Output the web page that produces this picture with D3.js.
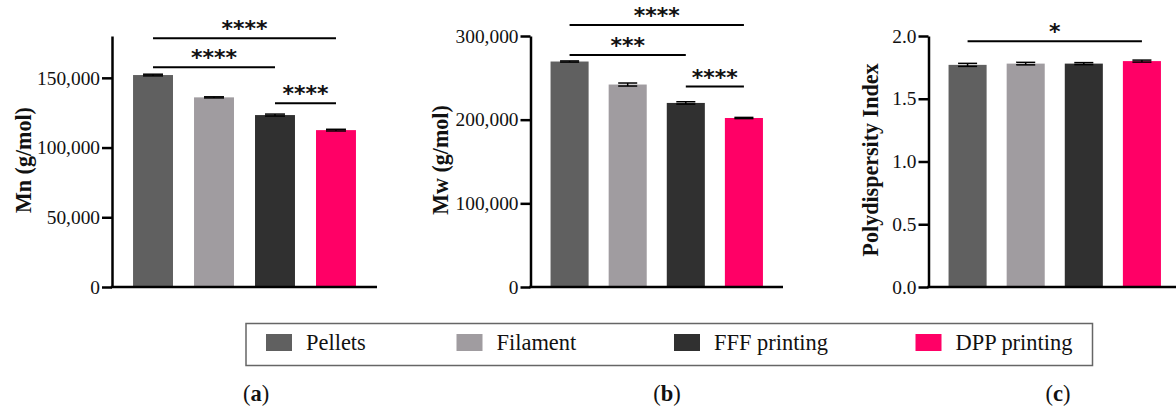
<!DOCTYPE html>
<html>
<head>
<meta charset="utf-8">
<script src="https://cdn.jsdelivr.net/npm/d3@7"></script>
<style>
  html, body { margin: 0; padding: 0; background: #fff; }
  svg { display: block; }
</style>
</head>
<body>
<svg id="chart" width="1176" height="410"></svg>
<script>
// ---------------- DATA ----------------
const categories = ["Pellets", "Filament", "FFF printing", "DPP printing"];
const colors = ["#606060", "#a09ca0", "#303030", "#ff0066"];

const mnValues = [152000, 136000, 123300, 112500];
const mnErrors = [600, 400, 700, 600];
const mnTicks = [0, 50000, 100000, 150000];

const mwValues = [269500, 242000, 220000, 202000];
const mwErrors = [700, 1800, 1400, 700];
const mwTicks = [0, 100000, 200000, 300000];

const pdiValues = [1.77, 1.78, 1.78, 1.80];
const pdiErrors = [0.012, 0.010, 0.008, 0.008];
const pdiTicks = [0, 0.5, 1.0, 1.5, 2.0];

// significance brackets: [from index, to index, level (data units), label]
const mnSig = [[0, 3, 178400, "****"], [0, 2, 157600, "****"], [2, 3, 131750, "****"]];
const mwSig = [[0, 3, 313100, "****"], [0, 2, 277400, "***"], [2, 3, 239600, "****"]];
const pdiSig = [[0, 3, 1.958, "*"]];

const panelLabels = ["a", "b", "c"];

// ---------------- DRAWING ----------------
const svg = d3.select("#chart");
const yBottom = 287, yTop = 36;
const SERIF = "'Liberation Serif', 'Times New Roman', serif";

// measure a string and return the font size that gives the wanted width
function fitSize(str, weight, targetW) {
  const t = svg.append("text").style("font-family", SERIF).style("font-weight", weight)
    .style("font-size", "20px").text(str);
  const w = t.node().getComputedTextLength();
  t.remove();
  return 20 * targetW / w;
}
const tickFS = fitSize("150,000", "normal", 63);
const titleFS = fitSize("Polydispersity Index", "bold", 193);
const legendFS = fitSize("DPP printing", "normal", 117);
const labelFS = fitSize("(a)", "normal", 25);

const panels = [
  { x0: 112, x1: 377, max: 180000, values: mnValues, errors: mnErrors, ticks: mnTicks,
    fmt: d3.format(","), title: "Mn (g/mol)", titleX: 23, sig: mnSig },
  { x0: 530.5, x1: 783, max: 300000, values: mwValues, errors: mwErrors, ticks: mwTicks,
    fmt: d3.format(","), title: "Mw (g/mol)", titleX: 440, sig: mwSig },
  { x0: 928.5, x1: 1181, max: 2.0, values: pdiValues, errors: pdiErrors, ticks: pdiTicks,
    fmt: d3.format(".1f"), title: "Polydispersity Index", titleX: 870, sig: pdiSig }
];

panels.forEach(p => {
  const g = svg.append("g");
  const x = d3.scaleBand().domain(categories).range([p.x0, p.x1])
    .paddingInner(0.345).paddingOuter(0.345);
  const y = d3.scaleLinear().domain([0, p.max]).range([yBottom, yTop]);

  // bars
  g.selectAll("rect.bar").data(p.values).join("rect")
    .attr("class", "bar")
    .attr("x", (d, i) => x(categories[i]))
    .attr("width", x.bandwidth())
    .attr("y", d => y(d))
    .attr("height", d => y(0) - y(d))
    .attr("fill", (d, i) => colors[i]);

  // error bars
  const capW = x.bandwidth() * 0.5;
  p.values.forEach((v, i) => {
    const cx = x(categories[i]) + x.bandwidth() / 2;
    const e = p.errors[i];
    g.append("line").attr("x1", cx).attr("x2", cx)
      .attr("y1", y(v - e)).attr("y2", y(v + e))
      .attr("stroke", "#000").attr("stroke-width", 1.5);
    [v - e, v + e].forEach(val => {
      g.append("line").attr("x1", cx - capW / 2).attr("x2", cx + capW / 2)
        .attr("y1", y(val)).attr("y2", y(val))
        .attr("stroke", "#000").attr("stroke-width", 1.5);
    });
  });

  // y axis
  const ya = g.append("g").attr("transform", `translate(${p.x0},0)`)
    .call(d3.axisLeft(y).tickValues(p.ticks).tickFormat(p.fmt)
      .tickSize(10).tickSizeOuter(0).tickPadding(2));
  ya.selectAll("path, line").attr("stroke", "#000").attr("stroke-width", 2.5);
  ya.selectAll("text")
    .style("font-family", SERIF).style("font-size", tickFS + "px").style("fill", "#111");

  // x axis line
  g.append("line").attr("x1", p.x0 - 1.25).attr("x2", p.x1)
    .attr("y1", yBottom).attr("y2", yBottom)
    .attr("stroke", "#000").attr("stroke-width", 2.5);

  // title
  g.append("text")
    .attr("transform", `translate(${p.titleX},160) rotate(-90)`)
    .attr("text-anchor", "middle").attr("dominant-baseline", "central")
    .style("font-family", SERIF).style("font-weight", "bold")
    .style("font-size", titleFS + "px").style("fill", "#111")
    .text(p.title);

  // significance brackets
  p.sig.forEach(([a, b, lvl, lab]) => {
    const xa = x(categories[a]) + x.bandwidth() / 2;
    const xb = x(categories[b]) + x.bandwidth() / 2;
    const yy = y(lvl);
    g.append("line").attr("x1", xa).attr("x2", xb).attr("y1", yy).attr("y2", yy)
      .attr("stroke", "#000").attr("stroke-width", 2);
    g.append("text").attr("x", (xa + xb) / 2).attr("y", yy - 2)
      .attr("text-anchor", "middle")
      .style("font-family", "'DejaVu Sans', sans-serif").style("font-weight", "bold")
      .style("font-size", "22px").style("fill", "#111")
      .text(lab);
  });
});

// legend
const legend = svg.append("g");
legend.append("rect").attr("x", 246).attr("y", 323.5).attr("width", 846.5).attr("height", 42)
  .attr("fill", "#fff").attr("stroke", "#666").attr("stroke-width", 1.5);
const legendX = [266, 456.5, 674, 915.5];
categories.forEach((c, i) => {
  legend.append("rect").attr("x", legendX[i]).attr("y", 334).attr("width", 26).attr("height", 17)
    .attr("fill", colors[i]);
  legend.append("text").attr("x", legendX[i] + 40).attr("y", 350)
    .style("font-family", SERIF).style("font-size", legendFS + "px").style("fill", "#111")
    .text(c);
});

// panel labels
const labelX = [256, 667, 1058];
panelLabels.forEach((l, i) => {
  const t = svg.append("text").attr("x", labelX[i]).attr("y", 401)
    .attr("text-anchor", "middle")
    .style("font-family", SERIF).style("font-size", labelFS + "px").style("fill", "#111");
  t.append("tspan").text("(");
  t.append("tspan").style("font-weight", "bold").text(l);
  t.append("tspan").text(")");
});
</script>
</body>
</html>
